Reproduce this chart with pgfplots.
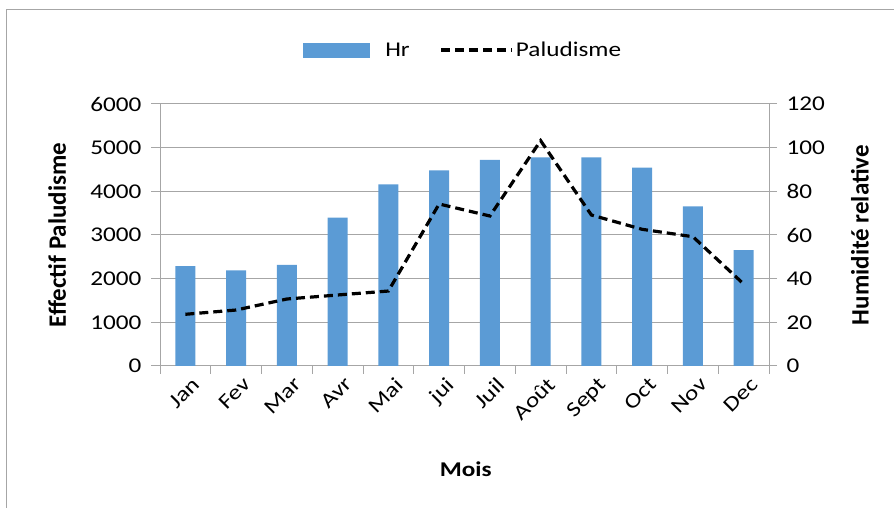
\documentclass[border=0pt]{standalone}
\usepackage{fontspec}
\setmainfont{Carlito}[FakeStretch=1.2]
\newfontfamily\ylabfont{Carlito}
\usepackage{pgfplots}
\pgfplotsset{compat=1.18}
\definecolor{barblue}{HTML}{5B9BD5}
\definecolor{gridgray}{HTML}{A6A6A6}
\newcommand{\tickfont}{\fontsize{21}{25}\selectfont}

\begin{document}
\begin{tikzpicture}
\path[use as bounding box] (0,0) rectangle (894pt,508pt);
\draw[gridgray, line width=1pt] (6pt,0) -- (6pt,498pt) -- (894pt,498pt);

% bars: relative humidity (right axis)
\begin{axis}[
  at={(160pt,142pt)}, anchor=south west,
  width=609pt, height=262pt, scale only axis,
  xmin=-0.5, xmax=11.5, ymin=0, ymax=120,
  axis x line*=bottom, axis y line*=right,
  axis line style={gridgray, line width=1pt},
  xtick={-0.5,0.5,...,11.5},
  xticklabels={{},{},{},{},{},{},{},{},{},{},{},{},{}},
  extra x ticks={0,...,11},
  extra x tick labels={Jan,Fev,Mar,Avr,Mai,jui,Juil,Août,Sept,Oct,Nov,Dec},
  extra x tick style={major tick length=0pt, xticklabel style={yshift=-8pt}},
  ytick={0,20,...,120},
  ymajorgrids, grid style={gridgray, line width=1pt},
  tick align=outside, major tick length=8pt,
  tick style={gridgray, line width=1pt},
  xticklabel style={rotate=45, anchor=north east, font=\tickfont, inner sep=3pt},
  yticklabel style={font=\tickfont, xshift=6pt},
  /pgf/number format/assume math mode=true,
  xlabel={Mois},
  xlabel style={font=\fontsize{21}{25}\selectfont\bfseries, at={(axis description cs:0.502,-0.393)}, anchor=center},
  ylabel={Humidité relative},
  ylabel style={font=\ylabfont\fontsize{25}{28}\selectfont\bfseries, at={(axis description cs:1.1494,0.5)}, anchor=center, rotate=0},
]
\addplot[ybar, bar width=20pt, fill=barblue, draw=none] coordinates {
  (0,45.7) (1,43.8) (2,46.3) (3,67.9) (4,83.2) (5,89.6)
  (6,94.4) (7,95.6) (8,95.6) (9,90.8) (10,73.1) (11,53.1)};
\end{axis}

% line: malaria cases (left axis)
\begin{axis}[
  at={(160pt,142pt)}, anchor=south west,
  width=609pt, height=262pt, scale only axis,
  xmin=-0.5, xmax=11.5, ymin=0, ymax=6000,
  axis x line=none, axis y line*=left,
  axis line style={gridgray, line width=1pt},
  ytick={0,1000,...,6000},
  tick align=outside, major tick length=9pt,
  ytick style={gridgray, line width=1pt},
  yticklabel style={font=\tickfont, xshift=-6pt},
  /pgf/number format/1000 sep={},
  /pgf/number format/assume math mode=true,
  ylabel={Effectif Paludisme},
  ylabel style={font=\ylabfont\fontsize{25}{28}\selectfont\bfseries, at={(axis description cs:-0.169,0.5)}, anchor=center},
  legend columns=2,
  legend style={at={(axis description cs:0.4975,1.206)}, anchor=center, draw=none, fill=none,
    font=\tickfont, /tikz/every even column/.append style={column sep=28pt}},
]
\addlegendimage{legend image code/.code={\fill[barblue] (0pt,-7pt) rectangle (66pt,7pt); \path (80pt,0pt);}}
\addlegendentry{Hr}
\addplot[black, line width=3.2pt, dash pattern=on 9pt off 5pt,
  legend image code/.code={\draw[black, line width=3.2pt, dash pattern=on 9pt off 5pt] (0pt,0pt) -- (71pt,0pt);}]
  coordinates {
  (0,1184) (1,1282) (2,1534) (3,1626) (4,1717) (5,3710)
  (6,3435) (7,5160) (8,3458) (9,3130) (10,2961) (11,1878)};
\addlegendentry{Paludisme}
\end{axis}
\end{tikzpicture}
\end{document}
